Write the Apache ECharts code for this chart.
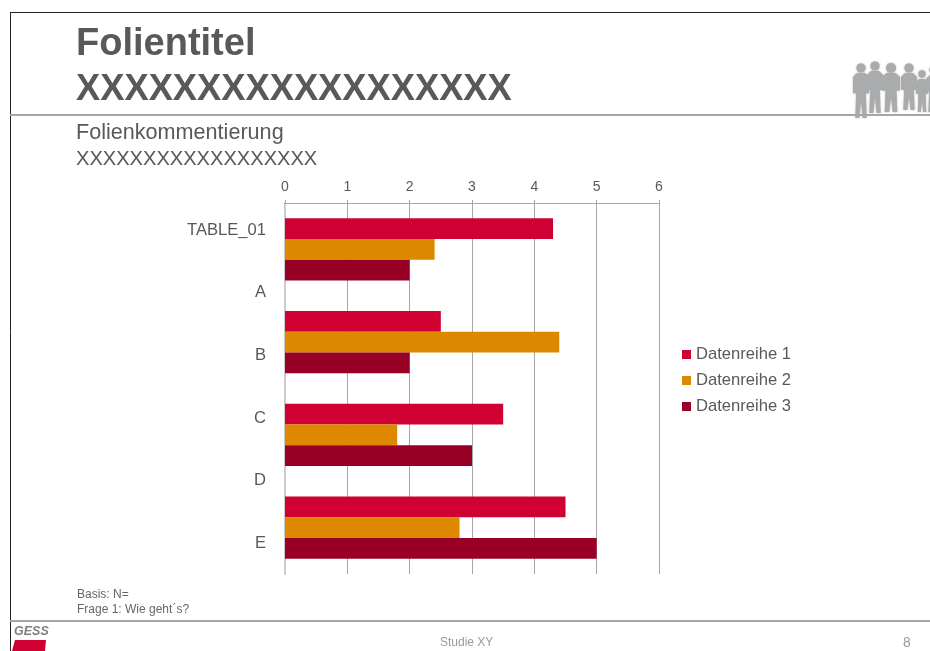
<!DOCTYPE html>
<html>
<head>
<meta charset="utf-8">
<style>
  html, body { margin: 0; padding: 0; background: #fff; }
  #chart { width: 930px; height: 651px; }
</style>
<script src="https://cdn.jsdelivr.net/npm/echarts@6/dist/echarts.min.js"></script>
</head>
<body>
<div id="chart"></div>
<script>
// bars sit in four groups, the six labels run on their own spacing
const barGroups = ['TABLE_01', 'B', 'C', 'E']
const axisLabels = ['TABLE_01', 'A', 'B', 'C', 'D', 'E']
const seriesNames = ['Datenreihe 1', 'Datenreihe 2', 'Datenreihe 3']
const reihe1 = [4.3, 2.5, 3.5, 4.5]
const reihe2 = [2.4, 4.4, 1.8, 2.8]
const reihe3 = [2, 2, 3, 5]
const colors = ['#d10032', '#dc8900', '#990025']

const textColor = '#595959'
const fontFamily = '"Liberation Sans", Arial, sans-serif'
const peopleColor = '#a9abac'

// [centre x, head y, half width, foot y]
const people = [
  [861, 68, 8, 118],
  [875, 66, 8, 113],
  [891, 68, 9, 112],
  [909, 68, 8, 110],
  [922, 74, 6, 112],
  [934, 70, 8, 112]
]

function slideText(text, x, y, size, weight, color) {
  return {
    type: 'text',
    x: x,
    y: y,
    silent: true,
    style: {
      text: text,
      fontFamily: fontFamily,
      fontSize: size,
      fontWeight: weight || 'normal',
      fill: color || textColor,
      textVerticalAlign: 'middle'
    }
  }
}

function slideLine(x1, y1, x2, y2, color, width) {
  return {
    type: 'line',
    silent: true,
    shape: { x1: x1, y1: y1, x2: x2, y2: y2 },
    style: { stroke: color, lineWidth: width }
  }
}

function personShapes(p) {
  const cx = p[0], head = p[1], w = p[2], foot = p[3]
  const top = head + 5
  const hip = top + (foot - top) * 0.45
  const soft = { fill: peopleColor, shadowBlur: 2, shadowColor: peopleColor }
  return [
    {
      type: 'circle',
      silent: true,
      shape: { cx: cx, cy: head, r: w * 0.45 + 1 },
      style: soft
    },
    {
      type: 'polygon',
      silent: true,
      shape: {
        points: [
          [cx - w * 0.5, top], [cx + w * 0.5, top],
          [cx + w, top + 4], [cx + w, hip], [cx + w * 0.6, hip],
          [cx + w * 0.7, foot], [cx + w * 0.2, foot], [cx, hip + 6],
          [cx - w * 0.2, foot], [cx - w * 0.7, foot], [cx - w * 0.6, hip],
          [cx - w, hip], [cx - w, top + 4]
        ]
      },
      style: soft
    }
  ]
}

const slideGraphics = [
  slideLine(10.5, 12, 10.5, 651, '#222222', 1),
  slideLine(10, 12.5, 930, 12.5, '#222222', 1),
  ...people.flatMap(personShapes),
  slideLine(10, 115, 930, 115, '#a6a6a6', 2),
  slideLine(10, 621, 930, 621, '#a6a6a6', 2),
  slideText('Folientitel', 76, 45, 38, 'bold'),
  slideText('XXXXXXXXXXXXXXXXXX', 76, 90, 36.3, 'bold'),
  slideText('Folienkommentierung', 76, 133, 21.6),
  slideText('XXXXXXXXXXXXXXXXXX', 76, 159, 20.1),
  slideText('Basis: N=', 77, 595, 12, 'normal', '#666666'),
  slideText('Frage 1: Wie geht´s?', 77, 610, 12, 'normal', '#666666'),
  slideText('Studie XY', 440, 643, 12, 'normal', '#999999'),
  slideText('8', 903, 643, 14, 'normal', '#999999'),
  {
    type: 'text',
    x: 14,
    y: 632,
    silent: true,
    style: {
      text: 'GESS',
      fontFamily: fontFamily,
      fontSize: 12.5,
      fontWeight: 'bold',
      fontStyle: 'italic',
      fill: '#7f7f7f',
      textVerticalAlign: 'middle'
    }
  },
  {
    type: 'polygon',
    silent: true,
    shape: { points: [[15, 640], [46, 640], [45, 651], [12, 651]] },
    style: { fill: colors[0] }
  }
]

const chart = echarts.init(document.getElementById('chart'), null, { renderer: 'canvas' })

chart.setOption({
  animation: false,
  backgroundColor: '#ffffff',
  color: colors,
  textStyle: { fontFamily: fontFamily },
  graphic: slideGraphics,
  legend: {
    data: seriesNames,
    orient: 'vertical',
    left: 677,
    top: 341,
    icon: 'rect',
    itemWidth: 9,
    itemHeight: 9,
    itemGap: 9,
    textStyle: { color: textColor, fontSize: 16.6, fontFamily: fontFamily }
  },
  grid: [
    { left: 285, top: 203, width: 374, height: 371 },
    { left: 285, top: 199, width: 374, height: 375.6 }
  ],
  xAxis: [
    {
      type: 'value',
      gridIndex: 0,
      position: 'top',
      min: 0,
      max: 6,
      interval: 1,
      axisLine: { show: true, onZero: false, lineStyle: { color: '#a6a6a6', width: 1 } },
      axisTick: { show: true, length: 3, lineStyle: { color: '#a6a6a6' } },
      axisLabel: { color: textColor, fontSize: 14, margin: 9 },
      splitLine: { show: true, lineStyle: { color: '#a6a6a6', width: 1 } }
    },
    { type: 'value', gridIndex: 1, show: false }
  ],
  yAxis: [
    {
      type: 'category',
      gridIndex: 0,
      inverse: true,
      data: barGroups,
      axisLine: { show: true, onZero: false, lineStyle: { color: '#cccccc', width: 2 } },
      axisTick: { show: false },
      axisLabel: { show: false }
    },
    {
      type: 'category',
      gridIndex: 1,
      inverse: true,
      data: axisLabels,
      axisLine: { show: false },
      axisTick: { show: false },
      axisLabel: { color: textColor, fontSize: 16.6, margin: 19 }
    }
  ],
  series: [reihe1, reihe2, reihe3].map((values, i) => ({
    name: seriesNames[i],
    type: 'bar',
    xAxisIndex: 0,
    yAxisIndex: 0,
    data: values,
    barGap: 0,
    barCategoryGap: '33%',
    itemStyle: { color: colors[i] }
  }))
})
</script>
</body>
</html>
